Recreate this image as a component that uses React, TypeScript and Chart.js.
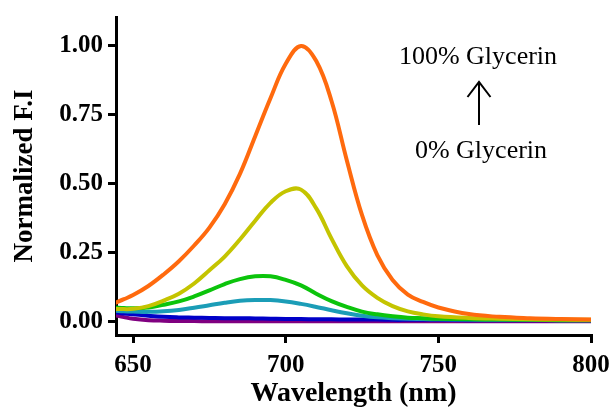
import React, { useEffect, useRef } from "react";
import { Chart, registerables } from "chart.js";

Chart.register(...registerables);

const wavelengths = [644, 647, 650, 655, 660, 665, 670, 675, 680, 685, 690, 695, 700, 705, 710, 715, 720, 725, 730, 735, 740, 745, 750, 760, 770, 780, 790, 800];

const orange = [0.066, 0.08, 0.095, 0.128, 0.17, 0.218, 0.275, 0.34, 0.425, 0.535, 0.672, 0.81, 0.935, 1.0, 0.945, 0.8, 0.585, 0.385, 0.24, 0.15, 0.097, 0.07, 0.05, 0.026, 0.016, 0.011, 0.008, 0.006];
const yellow = [0.045, 0.044, 0.045, 0.055, 0.075, 0.1, 0.137, 0.185, 0.235, 0.297, 0.365, 0.43, 0.472, 0.478, 0.41, 0.3, 0.2, 0.13, 0.085, 0.055, 0.036, 0.025, 0.018, 0.012, 0.009, 0.007, 0.006, 0.005];
const green = [0.05, 0.048, 0.047, 0.05, 0.06, 0.072, 0.09, 0.112, 0.135, 0.153, 0.163, 0.163, 0.15, 0.13, 0.1, 0.073, 0.052, 0.035, 0.025, 0.018, 0.013, 0.011, 0.009, 0.007, 0.006, 0.005, 0.004, 0.004];
const cyan = [0.038, 0.036, 0.035, 0.034, 0.036, 0.041, 0.049, 0.058, 0.067, 0.074, 0.077, 0.077, 0.072, 0.063, 0.052, 0.04, 0.029, 0.02, 0.014, 0.011, 0.009, 0.008, 0.007, 0.006, 0.005, 0.005, 0.004, 0.004];
const blue = [0.032, 0.028, 0.025, 0.02, 0.016, 0.014, 0.013, 0.012, 0.011, 0.011, 0.01, 0.009, 0.008, 0.008, 0.007, 0.007, 0.006, 0.006, 0.006, 0.005, 0.005, 0.005, 0.005, 0.004, 0.004, 0.004, 0.004, 0.004];
const purple = [0.022, 0.015, 0.009, 0.004, 0.002, 0.001, 0.0005, 0, 0, 0, 0, 0, 0, 0, 0, 0, 0, 0, 0, 0, 0, 0, 0, 0, 0, 0, 0, 0];

const seriesValues = [orange, yellow, green, cyan, blue, purple];
const seriesColors = ["#FF6A0E", "#C4C400", "#0CC40C", "#1B9DB7", "#0000C8", "#800080"];

const xTicks = [650, 700, 750, 800];
const yTicks = [0, 0.25, 0.5, 0.75, 1.0];

const topLabel = "100% Glycerin";
const bottomLabel = "0% Glycerin";

const annotationPlugin = {
  id: "glycerinAnnotation",
  afterDraw(chart: any) {
    const ctx = chart.ctx;
    ctx.save();
    ctx.fillStyle = "#000";
    ctx.strokeStyle = "#000";
    ctx.font = "26px 'Liberation Serif'";
    ctx.textAlign = "center";
    ctx.textBaseline = "alphabetic";
    ctx.fillText(topLabel, 478, 64);
    ctx.fillText(bottomLabel, 481, 158);
    ctx.lineWidth = 2;
    ctx.beginPath();
    ctx.moveTo(479, 125);
    ctx.lineTo(479, 83);
    ctx.moveTo(467.5, 97);
    ctx.lineTo(479, 82);
    ctx.lineTo(490.5, 97);
    ctx.stroke();
    ctx.restore();
  },
};

export default function App() {
  const canvasRef = useRef<HTMLCanvasElement | null>(null);

  useEffect(() => {
    if (!canvasRef.current) return;
    const chart = new Chart(canvasRef.current, {
      type: "line",
      data: {
        datasets: seriesValues.map((vals, i) => ({
          data: wavelengths.map((w, j) => ({ x: w, y: vals[j] })),
          borderColor: seriesColors[i],
          backgroundColor: seriesColors[i],
          borderWidth: 4,
          pointRadius: 0,
          fill: false,
          tension: 0.4,
          order: i,
        })),
      },
      options: {
        animation: false,
        responsive: true,
        maintainAspectRatio: false,
        layout: { padding: { left: 0, top: 17, right: 23, bottom: 0 } },
        plugins: {
          legend: { display: false },
          tooltip: { enabled: false },
        },
        scales: {
          x: {
            type: "linear",
            min: 644.4,
            max: 800,
            afterBuildTicks: (scale: any) => {
              scale.ticks = xTicks.map((v) => ({ value: v }));
            },
            afterFit: (scale: any) => {
              scale.height = 77;
              scale.paddingLeft = 0;
              scale.paddingRight = 0;
            },
            border: { display: true, color: "#000", width: 3 },
            grid: { display: true, drawOnChartArea: false, drawTicks: true, tickLength: 8, color: "#000", lineWidth: 3 },
            ticks: {
              autoSkip: false,
              maxRotation: 0,
              padding: 8,
              color: "#000",
              font: { family: "'Liberation Serif'", size: 25, weight: "bold" },
              callback: (v: any) => String(v),
            },
            title: {
              display: true,
              text: "Wavelength (nm)",
              color: "#000",
              font: { family: "'Liberation Serif'", size: 28, weight: "bold" },
              padding: { top: 0, bottom: 1 },
            },
          },
          y: {
            type: "linear",
            min: -0.05,
            max: 1.105,
            afterBuildTicks: (scale: any) => {
              scale.ticks = yTicks.map((v) => ({ value: v }));
            },
            afterFit: (scale: any) => {
              scale.width = 116;
              scale.paddingTop = 0;
              scale.paddingBottom = 0;
            },
            border: { display: true, color: "#000", width: 3 },
            grid: { display: true, drawOnChartArea: false, drawTicks: true, tickLength: 8, color: "#000", lineWidth: 3 },
            ticks: {
              autoSkip: false,
              padding: 5,
              color: "#000",
              font: { family: "'Liberation Serif'", size: 25, weight: "bold" },
              callback: (v: any) => Number(v).toFixed(2),
            },
            title: {
              display: true,
              text: "Normalized F.I",
              color: "#000",
              font: { family: "'Liberation Serif'", size: 27, weight: "bold" },
              padding: { top: 9, bottom: 0 },
            },
          },
        },
      },
      plugins: [annotationPlugin],
    });
    return () => chart.destroy();
  }, []);

  return (
    <div style={{ position: "fixed", left: 0, top: 0, width: 614, height: 412, background: "#fff" }}>
      <canvas ref={canvasRef} />
    </div>
  );
}
